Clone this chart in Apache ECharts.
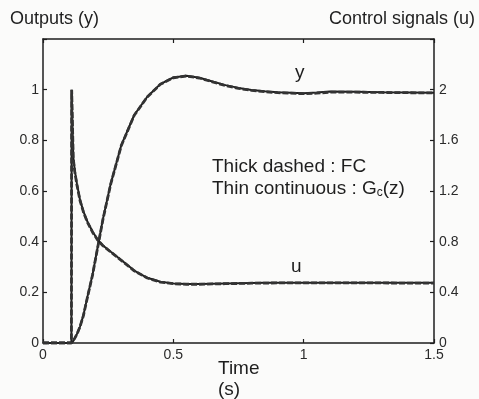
<!DOCTYPE html>
<html>
<head>
<meta charset="utf-8">
<title>Outputs and control signals</title>
<script src="https://cdn.jsdelivr.net/npm/echarts@6/dist/echarts.min.js"></script>
<style>
  html, body { margin: 0; padding: 0; background: #fbfbfa; }
  #chart { width: 479px; height: 399px; }
</style>
</head>
<body>
<div id="chart"></div>
<script>
// time samples (s)
var time = [0, 0.1, 0.109, 0.11, 0.116, 0.122, 0.13, 0.142, 0.155, 0.17, 0.19, 0.21, 0.23, 0.26, 0.3, 0.35,
  0.4, 0.45, 0.5, 0.55, 0.6, 0.65, 0.7, 0.75, 0.8, 0.85, 0.9, 0.95, 1.0, 1.05, 1.1, 1.2, 1.3, 1.4, 1.5];

// outputs y (left axis)
var yGc = [0, 0, 0, 0, 0.008, 0.02, 0.035, 0.065, 0.11, 0.18, 0.27, 0.38, 0.49, 0.63, 0.78, 0.9,
  0.972, 1.022, 1.048, 1.055, 1.047, 1.032, 1.018, 1.007, 0.999, 0.994, 0.99, 0.988, 0.986, 0.989, 0.993, 0.992, 0.99, 0.989, 0.988];
var yFC = [0, 0, 0, 0, 0.007, 0.019, 0.034, 0.064, 0.108, 0.178, 0.268, 0.378, 0.488, 0.628, 0.778, 0.899,
  0.971, 1.021, 1.047, 1.054, 1.046, 1.031, 1.016, 1.005, 0.997, 0.992, 0.988, 0.986, 0.984, 0.986, 0.99, 0.99, 0.989, 0.988, 0.987];

// control signals u (right axis)
var uGc = [0, 0, 0, 2.0, 1.47, 1.36, 1.26, 1.13, 1.04, 0.96, 0.88, 0.815, 0.77, 0.72, 0.655, 0.572,
  0.515, 0.483, 0.47, 0.466, 0.466, 0.468, 0.47, 0.472, 0.474, 0.475, 0.476, 0.476, 0.476, 0.476, 0.476, 0.476, 0.476, 0.475, 0.475];
var uFC = [0, 0, 0, 2.0, 1.46, 1.35, 1.25, 1.125, 1.035, 0.955, 0.875, 0.812, 0.768, 0.718, 0.653, 0.57,
  0.513, 0.481, 0.468, 0.464, 0.464, 0.466, 0.468, 0.47, 0.472, 0.473, 0.474, 0.474, 0.474, 0.474, 0.474, 0.474, 0.474, 0.473, 0.473];

var xTicks = { min: 0, max: 1.5, interval: 0.5 };
var yTicks = { min: 0, max: 1.2, interval: 0.2 };
var uTicks = { min: 0, max: 2.4, interval: 0.4 };

var ink = '#1e1e1e';
var font = 'Liberation Sans, Arial, Helvetica, sans-serif';

function pairs(vals) {
  return time.map(function (t, i) { return [t, vals[i]]; });
}

var chart = echarts.init(document.getElementById('chart'), null, { renderer: 'canvas' });

var axisLine = { show: true, onZero: false, lineStyle: { color: ink, width: 1.5 } };
var axisTick = { show: true, inside: true, length: 4, lineStyle: { color: ink, width: 1.2 } };
var tickLabel = { color: '#2a2a2a', fontSize: 14, fontFamily: font };

chart.setOption({
  animation: false,
  backgroundColor: '#fbfbfa',
  grid: { left: 43, right: 45, top: 39, bottom: 56, outerBoundsMode: 'none', containLabel: false },
  xAxis: [{
    type: 'value',
    min: xTicks.min, max: xTicks.max, interval: xTicks.interval,
    position: 'bottom',
    axisLine: axisLine,
    axisTick: axisTick,
    splitLine: { show: false },
    axisLabel: Object.assign({ margin: 5 }, tickLabel)
  }, {
    type: 'value',
    min: xTicks.min, max: xTicks.max, interval: xTicks.interval,
    position: 'top',
    axisLine: axisLine,
    axisTick: axisTick,
    splitLine: { show: false },
    axisLabel: { show: false }
  }],
  yAxis: [{
    type: 'value',
    min: yTicks.min, max: yTicks.max, interval: yTicks.interval,
    position: 'left',
    axisLine: axisLine,
    axisTick: axisTick,
    splitLine: { show: false },
    axisLabel: Object.assign({
      margin: 4,
      formatter: function (v) { return v > 1.1 ? '' : String(+v.toFixed(1)); }
    }, tickLabel)
  }, {
    type: 'value',
    min: uTicks.min, max: uTicks.max, interval: uTicks.interval,
    position: 'right',
    axisLine: axisLine,
    axisTick: axisTick,
    splitLine: { show: false },
    axisLabel: Object.assign({
      margin: 5,
      formatter: function (v) { return v > 2.2 ? '' : String(+v.toFixed(1)); }
    }, tickLabel)
  }],
  series: [{
    name: 'y Gc(z)', type: 'line', xAxisIndex: 0, yAxisIndex: 0,
    data: pairs(yGc), showSymbol: false, symbol: 'none',
    lineStyle: { color: ink, width: 2 }
  }, {
    name: 'y FC', type: 'line', xAxisIndex: 0, yAxisIndex: 0,
    data: pairs(yFC), showSymbol: false, symbol: 'none',
    lineStyle: { color: '#333', width: 2.8, type: [6, 2] }
  }, {
    name: 'u Gc(z)', type: 'line', xAxisIndex: 0, yAxisIndex: 1,
    data: pairs(uGc), showSymbol: false, symbol: 'none',
    lineStyle: { color: ink, width: 2 }
  }, {
    name: 'u FC', type: 'line', xAxisIndex: 0, yAxisIndex: 1,
    data: pairs(uFC), showSymbol: false, symbol: 'none',
    lineStyle: { color: '#333', width: 2.8, type: [6, 2] }
  }],
  graphic: [{
    type: 'text', left: 10, top: 10,
    style: { text: 'Outputs (y)', fill: ink, fontSize: 18, fontFamily: font }
  }, {
    type: 'text', right: 4, top: 10,
    style: { text: 'Control signals (u)', fill: ink, fontSize: 18, fontFamily: font }
  }, {
    type: 'text', left: 218, top: 358,
    style: { text: 'Time\n(s)', fill: ink, fontSize: 19, lineHeight: 21, fontFamily: font }
  }, {
    type: 'text', left: 212, top: 157,
    style: { text: 'Thick dashed : FC', fill: ink, fontSize: 19, fontFamily: font }
  }, {
    type: 'text', left: 212, top: 179,
    style: {
      text: 'Thin continuous : G{sub|c}(z)', fill: ink, fontSize: 19, fontFamily: font,
      rich: { sub: { fontSize: 12, fontFamily: font, fill: ink, verticalAlign: 'bottom', padding: [8, 0, 0, 0] } }
    }
  }, {
    type: 'text', left: 295, top: 63,
    style: { text: 'y', fill: ink, fontSize: 19, fontFamily: font }
  }, {
    type: 'text', left: 291, top: 257,
    style: { text: 'u', fill: ink, fontSize: 19, fontFamily: font }
  }]
});
</script>
</body>
</html>
